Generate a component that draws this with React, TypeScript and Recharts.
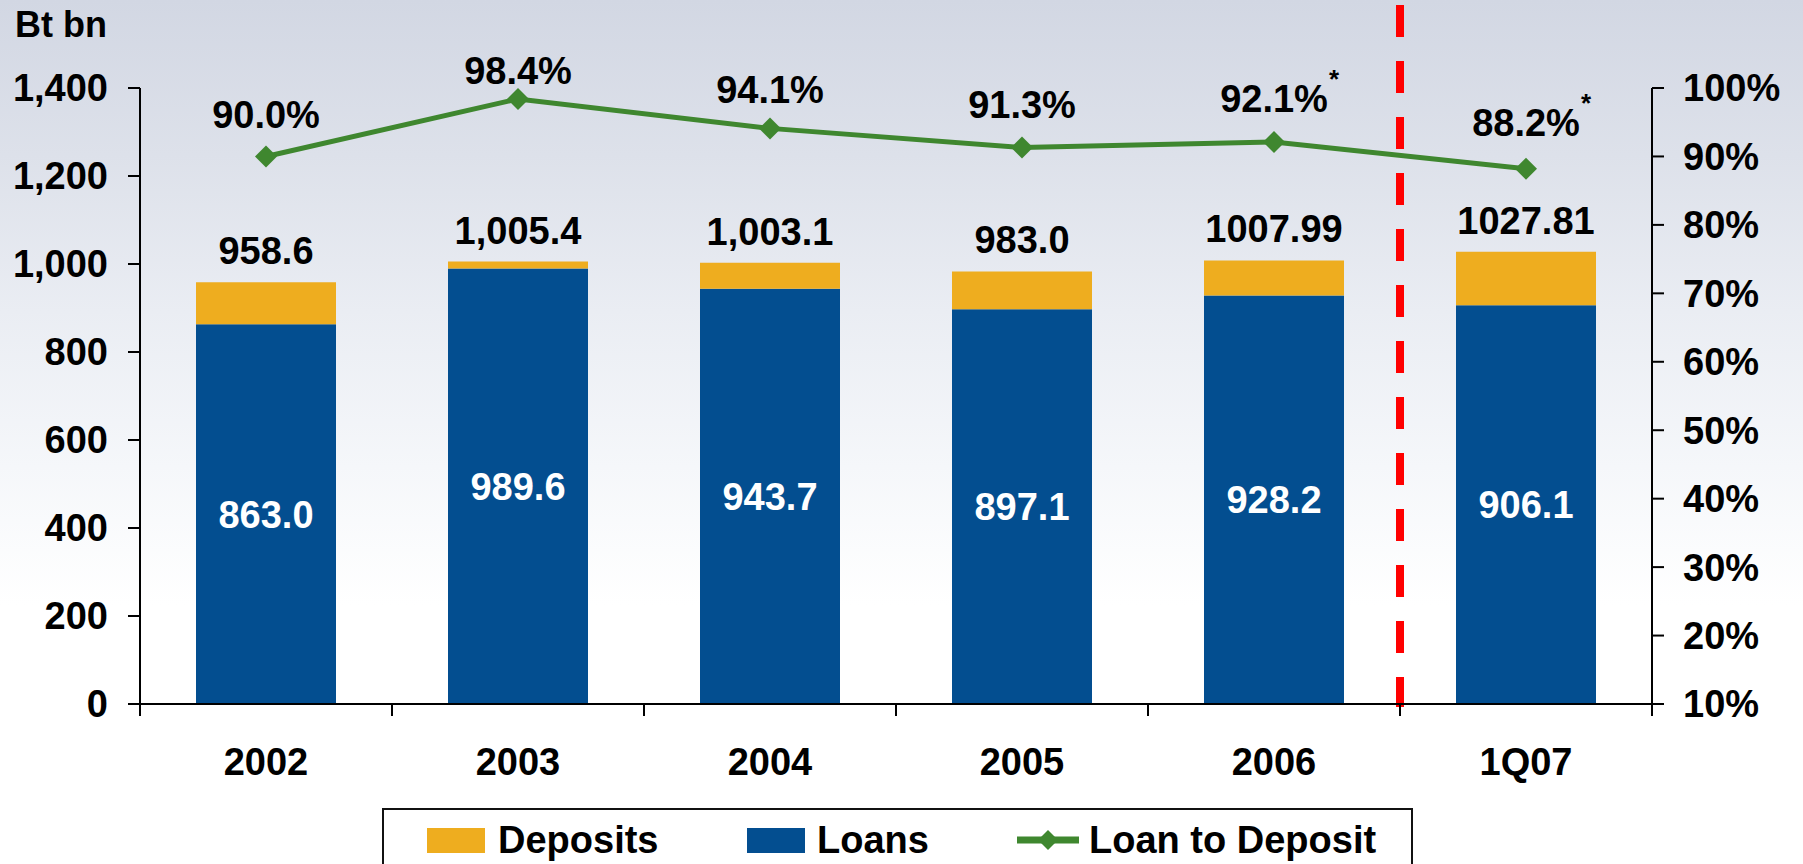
import React from "react";
import {
  ComposedChart,
  Bar,
  Line,
  XAxis,
  YAxis,
  LabelList,
  ReferenceLine,
} from "recharts";

// ---- data ----
const CATEGORIES = ["2002", "2003", "2004", "2005", "2006", "1Q07"];
const DEPOSITS = [958.6, 1005.4, 1003.1, 983.0, 1007.99, 1027.81];
const DEPOSIT_LABELS = ["958.6", "1,005.4", "1,003.1", "983.0", "1007.99", "1027.81"];
const LOANS = [863.0, 989.6, 943.7, 897.1, 928.2, 906.1];
const LOAN_TO_DEPOSIT = [90.0, 98.4, 94.1, 91.3, 92.1, 88.2];
const RATIO_LABELS = ["90.0%", "98.4%", "94.1%", "91.3%", "92.1%", "88.2%"];
const RATIO_FOOTNOTE = [false, false, false, false, true, true];
const LEFT_TICKS = [0, 200, 400, 600, 800, 1000, 1200, 1400];
const RIGHT_TICKS = [10, 20, 30, 40, 50, 60, 70, 80, 90, 100];

// ---- layout / style constants ----
const W = 1803;
const H = 864;
const MARGIN = { top: 88, right: 11, bottom: 100, left: 10 };
const LEFT_AXIS_W = 130;
const RIGHT_AXIS_W = 140;
const PLOT_W = W - MARGIN.left - MARGIN.right - LEFT_AXIS_W - RIGHT_AXIS_W;
const BAND = PLOT_W / CATEGORIES.length;
const LINE_LABEL_GAP = [28, 15, 25, 30, 30, 33];
const FONT = "'Liberation Sans', Arial, Helvetica, sans-serif";
const ORANGE = "#EEAD1F";
const BLUE = "#034E90";
const GREEN = "#3F872F";

const data = CATEGORIES.map((cat, i) => ({
  cat,
  loans: LOANS[i],
  gap: DEPOSITS[i] - LOANS[i],
  deposits: DEPOSITS[i],
  depLabel: DEPOSIT_LABELS[i],
  ratio: LOAN_TO_DEPOSIT[i],
}));

const XTick = (props: any) => {
  const { x, y, payload, index } = props;
  const last = index === CATEGORIES.length - 1;
  return (
    <g>
      <line x1={x - BAND / 2} x2={x - BAND / 2} y1={y} y2={y + 12} stroke="#000" strokeWidth={2} />
      {last && (
        <line x1={x + BAND / 2} x2={x + BAND / 2} y1={y} y2={y + 12} stroke="#000" strokeWidth={2} />
      )}
      <text
        x={x}
        y={y + 71}
        textAnchor="middle"
        fill="#000"
        fontSize={38}
        fontWeight={700}
        fontFamily={FONT}
      >
        {payload.value}
      </text>
    </g>
  );
};

const Diamond = (props: any) => {
  const { cx, cy, index } = props;
  if (cx == null || cy == null) return <g key={`d${index}`} />;
  const s = 11;
  return (
    <polygon
      key={`d${index}`}
      points={`${cx},${cy - s} ${cx + s},${cy} ${cx},${cy + s} ${cx - s},${cy}`}
      fill={GREEN}
    />
  );
};

const RatioLabel = (props: any) => {
  const { x, y, index } = props;
  const base = y - LINE_LABEL_GAP[index];
  return (
    <g>
      <text
        x={x}
        y={base}
        textAnchor="middle"
        fill="#000"
        fontSize={38}
        fontWeight={700}
        fontFamily={FONT}
      >
        {RATIO_LABELS[index]}
      </text>
      {RATIO_FOOTNOTE[index] && (
        <text
          x={x + 55}
          y={base - 24}
          textAnchor="start"
          fill="#000"
          fontSize={26}
          fontWeight={700}
          fontFamily={FONT}
        >
          *
        </text>
      )}
    </g>
  );
};

const DividerShape = (p: any) => {
  const top = Math.min(p.y1, p.y2);
  const bottom = Math.max(p.y1, p.y2);
  return (
    <line
      x1={p.x1}
      x2={p.x1}
      y1={top - 83}
      y2={bottom + 3}
      stroke="#FF0000"
      strokeWidth={8}
      strokeDasharray="32 24"
    />
  );
};

const tickStyle = { fill: "#000", fontSize: 38, fontWeight: 700, fontFamily: FONT };
const axisLineStyle = { stroke: "#000", strokeWidth: 2 };

const LegendBox = () => {
  const textStyle: React.CSSProperties = {
    fontFamily: FONT,
    fontWeight: 700,
    fontSize: 38,
    lineHeight: "38px",
    color: "#000",
    whiteSpace: "nowrap",
  };
  const item = (left: number, icon: React.ReactNode, gap: number, label: string) => (
    <div
      style={{
        position: "absolute",
        left,
        top: 840 - 20,
        height: 40,
        display: "flex",
        alignItems: "center",
      }}
    >
      {icon}
      <span style={{ ...textStyle, marginLeft: gap }}>{label}</span>
    </div>
  );
  return (
    <>
      <div
        style={{
          position: "absolute",
          left: 382,
          top: 808,
          width: 1031,
          height: 100,
          border: "2px solid #111",
          background: "#fff",
          boxSizing: "border-box",
        }}
      />
      {item(427, <div style={{ width: 58, height: 25, background: ORANGE }} />, 13, "Deposits")}
      {item(747, <div style={{ width: 58, height: 25, background: BLUE }} />, 12, "Loans")}
      {item(
        1017,
        <svg width={62} height={24} style={{ display: "block" }}>
          <line x1={0} x2={62} y1={12} y2={12} stroke={GREEN} strokeWidth={7} strokeLinecap="round" />
          <polygon points="31,2 41,12 31,22 21,12" fill={GREEN} />
        </svg>,
        10,
        "Loan to Deposit"
      )}
    </>
  );
};

export default function App() {
  return (
    <div
      style={{
        position: "absolute",
        left: 0,
        top: 0,
        width: W,
        height: H,
        overflow: "hidden",
        background:
          "linear-gradient(to bottom, #d2d7e3 0%, #dde1ea 18%, #eaedf3 36%, #f5f7fa 54%, #ffffff 70%, #ffffff 100%)",
      }}
    >
      <svg width={W} height={60} style={{ position: "absolute", left: 0, top: 0 }}>
        <text x={15} y={37} fontFamily={FONT} fontWeight={700} fontSize={36} fill="#000">
          Bt bn
        </text>
      </svg>
      <div style={{ position: "absolute", left: 0, top: 0 }}>
        <ComposedChart width={W} height={H} data={data} margin={MARGIN}>
          <XAxis
            dataKey="cat"
            interval={0}
            axisLine={axisLineStyle}
            tickLine={false}
            tickSize={0}
            tickMargin={0}
            height={60}
            tick={(p: any) => <XTick {...p} />}
          />
          <YAxis
            yAxisId="left"
            orientation="left"
            domain={[0, 1400]}
            ticks={LEFT_TICKS}
            interval={0}
            width={LEFT_AXIS_W}
            tickSize={12}
            tickMargin={20}
            axisLine={axisLineStyle}
            tickLine={axisLineStyle}
            tick={tickStyle}
            tickFormatter={(v: number) => v.toLocaleString("en-US")}
          />
          <YAxis
            yAxisId="right"
            orientation="right"
            domain={[10, 100]}
            ticks={RIGHT_TICKS}
            interval={0}
            width={RIGHT_AXIS_W}
            tickSize={12}
            tickMargin={19}
            axisLine={axisLineStyle}
            tickLine={axisLineStyle}
            tick={tickStyle}
            tickFormatter={(v: number) => `${v}%`}
          />
          <Bar yAxisId="left" dataKey="loans" stackId="s" fill={BLUE} barSize={140} isAnimationActive={false}>
            <LabelList
              dataKey="loans"
              position="center"
              fill="#fff"
              fontSize={38}
              fontWeight={700}
              fontFamily={FONT}
              formatter={(v: any) => Number(v).toFixed(1)}
            />
          </Bar>
          <Bar yAxisId="left" dataKey="gap" stackId="s" fill={ORANGE} barSize={140} isAnimationActive={false}>
            <LabelList
              dataKey="depLabel"
              position="top"
              offset={18}
              fill="#000"
              fontSize={38}
              fontWeight={700}
              fontFamily={FONT}
            />
          </Bar>
          <ReferenceLine
            yAxisId="left"
            x="1Q07"
            position="start"
            ifOverflow="visible"
            shape={(p: any) => <DividerShape {...p} />}
          />
          <Line
            yAxisId="right"
            type="linear"
            dataKey="ratio"
            stroke={GREEN}
            strokeWidth={5}
            dot={(p: any) => <Diamond {...p} />}
            activeDot={false}
            isAnimationActive={false}
          >
            <LabelList dataKey="ratio" content={(p: any) => <RatioLabel {...p} />} />
          </Line>
        </ComposedChart>
      </div>
      <LegendBox />
    </div>
  );
}
